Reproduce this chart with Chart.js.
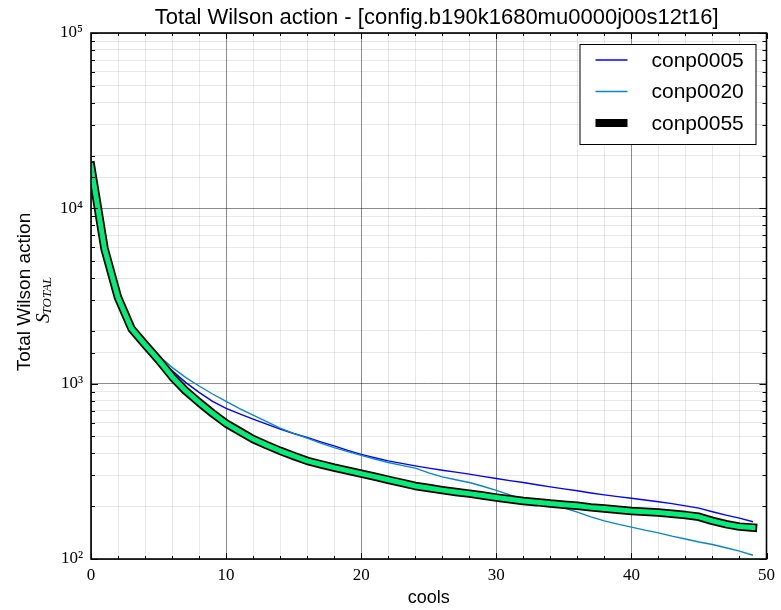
<!DOCTYPE html>
<html><head><meta charset="utf-8">
<script src="https://cdn.jsdelivr.net/npm/chart.js@4"></script>
<style>html,body{margin:0;padding:0;background:#fff}#wrap{width:781px;height:610px;position:relative}</style>
</head><body><div id="wrap"><canvas id="c" width="781" height="610"></canvas></div>
<script>
const cools = [0,1,2,3,4,5,6,7,8,9,10,11,12,13,14,15,16,17,18,19,20,21,22,23,24,25,26,27,28,29,30,31,32,33,34,35,36,37,38,39,40,41,42,43,44,45,46,47,48,49];
const conp0005 = [17300,5850,3080,2050,1690,1414,1187,1017,892,792,723,673,628,588,551,520,493,466,442,416,395,378,363,351,340,330,321,313,305,296,288,280,273,265,258,251,245,238,232,227,222,217,212,207,201,195,186,178,171,163];
const conp0020 = [17600,5950,3120,2080,1716,1445,1239,1086,970,873,792,720,662,607,558,520,489,458,432,410,390,372,355,342,330,310,294,283,273,260,246,232,218,210,203,196,185,174,165,158,152,146,141,135,130,125,121,116,111,105];
const conp0055 = [17500,5900,3100,2060,1670,1366,1096,912,782,677,593,535,483,446,414,387,363,347,332,319,307,295,283,272,261,254,247,241,236,230,224,219,214,211,207,204,201,197,194,191,188,186,184,181,178,174,165,158,153,151];
const seriesNames = ['conp0005','conp0020','conp0055'];
const yTickExps = [2,3,4,5];
const titleText = 'Total Wilson action - [config.b190k1680mu0000j00s12t16]';
const xTitle = 'cools';
const yTitle = 'Total Wilson action';

const SUP = {'2':'\u00b2','3':'\u00b3','4':'\u2074','5':'\u2075'};
const pts = arr => cools.map((c,i)=>({x:c,y:arr[i]}));
const isPow10 = v => { const l = Math.log10(v); return Math.abs(l - Math.round(l)) < 1e-9; };
const SANS = '"Liberation Sans", Arial, sans-serif';
const SERIF = '"Liberation Serif", "Times New Roman", serif';

const legendCfg = [
  {label: seriesNames[0], color:'#0000ff', width:1.5},
  {label: seriesNames[1], color:'#0a86c8', width:1.5},
  {label: seriesNames[2], color:'#000000', width:8}
];

const decor = {
  id:'decor',
  afterDraw(chart){
    const {ctx, chartArea:a, scales:{x,y}} = chart;
    ctx.save();
    ctx.strokeStyle = '#000'; ctx.lineWidth = 1;
    const ln = (x1,y1,x2,y2)=>{ctx.beginPath();ctx.moveTo(x1,y1);ctx.lineTo(x2,y2);ctx.stroke();};
    x.ticks.forEach(t=>{
      const px = Math.round(x.getPixelForValue(t.value))+0.5;
      const len = t.value % 10 === 0 ? 6 : 3;
      ln(px,a.bottom,px,a.bottom-len); ln(px,a.top,px,a.top+len);
    });
    y.ticks.forEach(t=>{
      const py = Math.round(y.getPixelForValue(t.value))+0.5;
      const len = isPow10(t.value) ? 7 : 4;
      ln(a.left,py,a.left+len,py); ln(a.right,py,a.right-len,py);
    });
    ctx.lineWidth = 1.6;
    ctx.strokeRect(a.left, a.top, a.right-a.left, a.bottom-a.top);

    // title
    ctx.fillStyle = '#000';
    ctx.font = '22px ' + SANS; ctx.textAlign = 'center'; ctx.textBaseline = 'middle';
    ctx.fillText(titleText, (a.left + a.right)/2 + 8, 18);

    // legend
    const bx = a.right - 187, by = a.top + 11, bw = 176, bh = 100;
    ctx.fillStyle = '#fff'; ctx.fillRect(bx, by, bw, bh);
    ctx.lineWidth = 1; ctx.strokeStyle = '#000';
    ctx.strokeRect(bx+0.5, by+0.5, bw, bh);
    ctx.font = '21px ' + SANS; ctx.textBaseline = 'middle'; ctx.textAlign = 'left';
    legendCfg.forEach((e,i)=>{
      const ry = by + 16 + i*31.5;
      ctx.strokeStyle = e.color; ctx.lineWidth = e.width; ctx.lineCap = 'butt';
      ln(bx+16, ry, bx+48, ry);
      ctx.fillStyle = '#000';
      ctx.fillText(e.label, bx+72, ry+1);
    });

    // y label
    const cy = (a.top + a.bottom)/2;
    ctx.fillStyle = '#000';
    ctx.save();
    ctx.translate(25, cy-4); ctx.rotate(-Math.PI/2);
    ctx.font = '19px ' + SANS; ctx.textAlign = 'center'; ctx.textBaseline = 'middle';
    ctx.fillText(yTitle, 0, 0);
    ctx.restore();
    ctx.save();
    ctx.translate(0, cy); ctx.rotate(-Math.PI/2);
    ctx.textAlign = 'left'; ctx.textBaseline = 'alphabetic';
    ctx.font = 'italic 19px ' + SERIF;
    const u0 = -27;
    ctx.fillText('S', u0, 49);
    const ws = ctx.measureText('S').width;
    ctx.font = 'italic 13px ' + SERIF;
    ctx.fillText('TOTAL', u0 + ws - 1, 51);
    ctx.restore();
    ctx.restore();
  }
};

new Chart(document.getElementById('c'), {
  type:'line',
  data:{
    datasets:[
      {label:seriesNames[2], data:pts(conp0055), borderColor:'#00ee78', borderWidth:5, borderCapStyle:'square', borderJoinStyle:'round', pointRadius:0, tension:0, fill:false, order:1},
      {label:seriesNames[2]+'-edge', data:pts(conp0055), borderColor:'#000', borderWidth:8.5, borderCapStyle:'square', borderJoinStyle:'round', pointRadius:0, tension:0, fill:false, order:2},
      {label:seriesNames[1], data:pts(conp0020), borderColor:'#0a86c8', borderWidth:1.4, pointRadius:0, tension:0, fill:false, order:3},
      {label:seriesNames[0], data:pts(conp0005), borderColor:'#0000ff', borderWidth:1.4, pointRadius:0, tension:0, fill:false, order:4}
    ]
  },
  options:{
    responsive:false, animation:false, devicePixelRatio:1,
    layout:{padding:{left:0,right:11,top:33,bottom:0}},
    plugins:{
      legend:{display:false}, tooltip:{enabled:false}, title:{display:false}
    },
    scales:{
      x:{type:'linear', min:0, max:50,
        afterFit(s){ s.height = 51; },
        ticks:{stepSize:2, autoSkip:false, maxRotation:0, color:'#000', padding:6, font:{family:SERIF, size:17},
          callback:v => (v % 10 === 0 ? String(v) : '')},
        grid:{drawTicks:false, color:c => (c.tick && c.tick.value % 10 === 0 ? 'rgba(0,0,0,0.45)' : 'rgba(0,0,0,0.09)'), lineWidth:1},
        border:{display:false},
        title:{display:true, text:xTitle, color:'#000', font:{family:SANS, size:18}, padding:{top:0,bottom:1}}
      },
      y:{type:'logarithmic', min:100, max:100000,
        afterFit(s){ s.width = 91; },
        ticks:{autoSkip:false, color:'#000', padding:8, font:{family:SERIF, size:17},
          callback:v => { if(!isPow10(v)) return ''; const e = Math.round(Math.log10(v)); return yTickExps.includes(e) ? '10' + SUP[String(e)] : ''; }},
        grid:{drawTicks:false, color:c => (c.tick && isPow10(c.tick.value) ? 'rgba(0,0,0,0.45)' : 'rgba(0,0,0,0.09)'), lineWidth:1},
        border:{display:false}
      }
    }
  },
  plugins:[decor]
});
</script></body></html>
